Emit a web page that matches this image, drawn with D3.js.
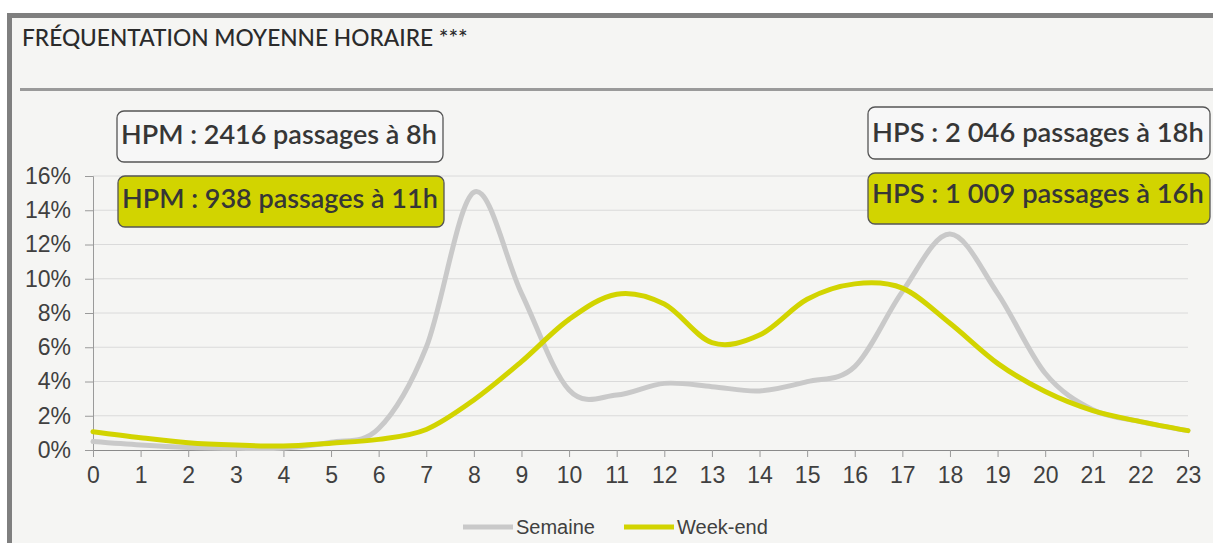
<!DOCTYPE html>
<html>
<head>
<meta charset="utf-8">
<script src="https://cdn.jsdelivr.net/npm/d3@7"></script>
<style>
  html, body { margin: 0; padding: 0; background: #fff; }
  svg { display: block; }
</style>
</head>
<body>
<div id="chart"></div>
<script>
// hours of the day (x axis)
const hours = d3.range(0, 24);
// share of hourly traffic, in %
const semaine = [0.49, 0.29, 0.15, 0.10, 0.12, 0.45, 1.25, 6.0, 15.05, 9.15, 3.5, 3.21, 3.89, 3.7, 3.45, 3.99, 4.87, 9.25, 12.61, 9.15, 4.48, 2.35, 1.66, 1.13];
const weekend = [1.07, 0.72, 0.43, 0.29, 0.23, 0.4, 0.62, 1.2, 2.92, 5.16, 7.63, 9.1, 8.52, 6.27, 6.71, 8.8, 9.7, 9.45, 7.4, 5.06, 3.41, 2.3, 1.66, 1.13];
const yTicks = [0, 2, 4, 6, 8, 10, 12, 14, 16];
const seriesNames = ['Semaine', 'Week-end'];
const seriesColors = ['#c9c9c9', '#d2d400'];
const title = 'FRÉQUENTATION MOYENNE HORAIRE ***';
const notes = [
  'HPM : 2416 passages à 8h',
  'HPM : 938 passages à 11h',
  'HPS : 2 046 passages à 18h',
  'HPS : 1 009 passages à 16h'
];
const noteSeries = [0, 1, 0, 1];

const CONFIG = {
  width: 1213,
  height: 543,
  bg: '#f5f5f3',
  plot: { left: 93, right: 1188, top: 176, bottom: 450 },
  // annotation boxes: x, y, w, h, baseline offset
  boxes: [
    { x: 117, y: 111, w: 326, h: 51, base: 33 },
    { x: 118, y: 176, w: 326, h: 51, base: 32 },
    { x: 868, y: 107, w: 342, h: 52, base: 35 },
    { x: 868, y: 173, w: 342, h: 51, base: 30 }
  ],
  boxFills: ['#f7f7f7', '#d2d400'],
  font: 'Lato, "Noto Sans", sans-serif',
  axisFont: '"Liberation Sans", Arial, sans-serif'
};

const { width, height, plot } = CONFIG;

const svg = d3.select('#chart').append('svg')
  .attr('width', width)
  .attr('height', height);

// panel background + frame
svg.append('rect').attr('x', 7).attr('y', 13).attr('width', width - 7).attr('height', height - 13)
  .attr('fill', CONFIG.bg);
svg.append('rect').attr('x', 7).attr('y', 13).attr('width', width - 7).attr('height', 5).attr('fill', '#7f7f7f');
svg.append('rect').attr('x', 7).attr('y', 13).attr('width', 5).attr('height', height - 13).attr('fill', '#7f7f7f');

const $title = svg.append('text')
  .attr('x', 22).attr('y', 46)
  .attr('font-family', CONFIG.font)
  .attr('font-weight', 500)
  .attr('font-size', 22)
  .attr('fill', '#2b2b2b')
  .text(title);
// stretch title to the reference width
(function(){
  const w = $title.node().getComputedTextLength();
  $title.attr('font-size', 22 * 446 / w);
})();

svg.append('rect').attr('x', 20).attr('y', 88).attr('width', width - 20).attr('height', 3).attr('fill', '#9a9a9a');

const x = d3.scaleLinear().domain([0, 23]).range([plot.left, plot.right]);
const y = d3.scaleLinear().domain([0, 16]).range([plot.bottom, plot.top]);

// grid
svg.append('g').selectAll('line')
  .data(yTicks.filter(d => d > 0))
  .join('line')
  .attr('x1', plot.left).attr('x2', plot.right)
  .attr('y1', d => y(d)).attr('y2', d => y(d))
  .attr('stroke', '#dadada').attr('stroke-width', 1);

// y axis
const yAxis = svg.append('g')
  .attr('transform', `translate(${plot.left},0)`)
  .call(d3.axisLeft(y).tickValues(yTicks).tickFormat(d => d + '%').tickSize(8).tickPadding(14));
yAxis.select('.domain').attr('stroke', '#9a9a9a');
yAxis.selectAll('.tick line').attr('stroke', '#9a9a9a');
yAxis.selectAll('text')
  .attr('font-family', CONFIG.axisFont).attr('font-size', 23).attr('fill', '#404040');

// x axis
const xAxis = svg.append('g')
  .attr('transform', `translate(0,${plot.bottom})`)
  .call(d3.axisBottom(x).tickValues(hours).tickFormat(d => d).tickSizeOuter(0).tickSize(7).tickPadding(10));
xAxis.select('.domain').attr('stroke', '#8a8a8a');
xAxis.selectAll('.tick line').attr('stroke', '#9a9a9a');
xAxis.selectAll('text')
  .attr('font-family', CONFIG.axisFont).attr('font-size', 23).attr('fill', '#404040');

// lines
const line = d3.line()
  .x((d, i) => x(hours[i]))
  .y(d => y(d))
  .curve(d3.curveCardinal.tension(0));

svg.append('g').selectAll('path')
  .data([semaine, weekend])
  .join('path')
  .attr('d', line)
  .attr('fill', 'none')
  .attr('stroke', (d, i) => seriesColors[i])
  .attr('stroke-width', 5)
  .attr('stroke-linecap', 'round')
  .attr('stroke-linejoin', 'round');

// annotation boxes
const $notes = svg.append('g').selectAll('g')
  .data(notes)
  .join('g')
  .attr('transform', (d, i) => `translate(${CONFIG.boxes[i].x},${CONFIG.boxes[i].y})`);

$notes.append('rect')
  .attr('width', (d, i) => CONFIG.boxes[i].w)
  .attr('height', (d, i) => CONFIG.boxes[i].h)
  .attr('rx', 7).attr('ry', 7)
  .attr('fill', (d, i) => CONFIG.boxFills[noteSeries[i]])
  .attr('stroke', '#555')
  .attr('stroke-width', 1.3);

$notes.append('text')
  .attr('x', 4)
  .attr('y', (d, i) => CONFIG.boxes[i].base)
  .attr('font-family', CONFIG.font)
  .attr('font-weight', 600)
  .attr('font-size', 24)
  .attr('fill', '#363636')
  .text(d => d)
  .each(function(d, i){
    // fit text inside its box
    const target = CONFIG.boxes[i].w - 10;
    const w = this.getComputedTextLength();
    d3.select(this).attr('font-size', 24 * target / w);
  });

// legend
const legend = svg.append('g').attr('transform', 'translate(463,527)');
const legendPos = [0, 161];
const $items = legend.selectAll('g')
  .data(seriesNames)
  .join('g')
  .attr('transform', (d, i) => `translate(${legendPos[i]},0)`);
$items.append('line')
  .attr('x1', 0).attr('x2', 50)
  .attr('stroke', (d, i) => seriesColors[i])
  .attr('stroke-width', 5);
$items.append('text')
  .attr('x', 53).attr('y', 7)
  .attr('font-family', CONFIG.axisFont)
  .attr('font-size', 20)
  .attr('fill', '#404040')
  .text(d => d);
</script>
</body>
</html>
